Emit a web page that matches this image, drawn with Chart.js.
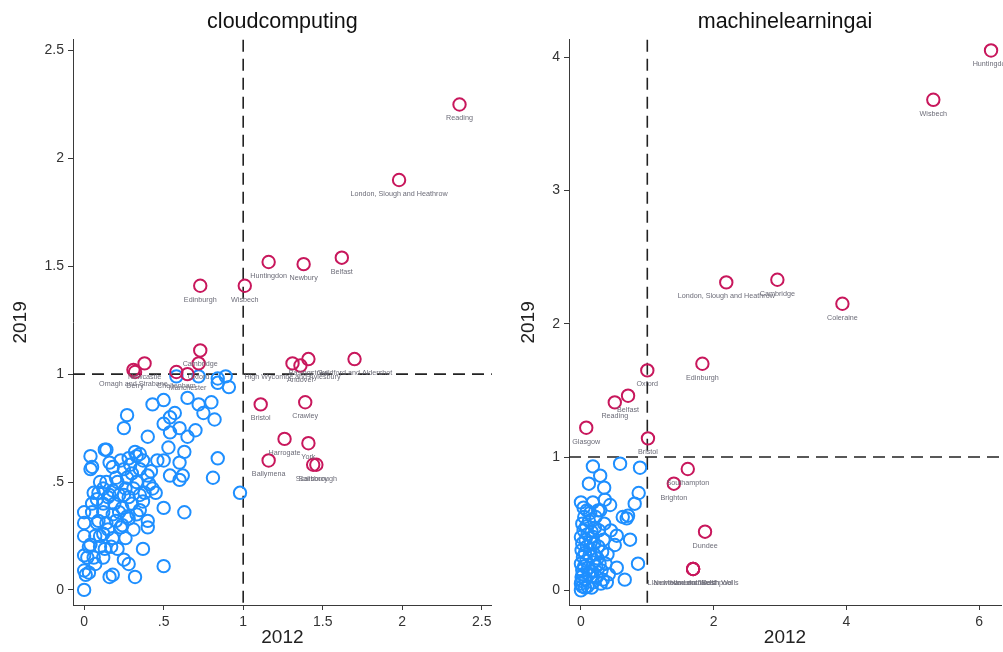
<!DOCTYPE html>
<html>
<head>
<meta charset="utf-8">
<script src="https://cdn.jsdelivr.net/npm/chart.js@4.4.1/dist/chart.umd.min.js"></script>
<style>
  html, body { margin: 0; padding: 0; background: #fff; overflow: hidden; width: 1003px; height: 652px; }
  #wrap { position: relative; width: 1003px; height: 652px; overflow: hidden; }
  #c1 { position: absolute; left: 0; top: 0; }
  #c2 { position: absolute; left: 500px; top: 0; }
</style>
</head>
<body>
<div id="wrap">
  <canvas id="c1" width="500" height="652"></canvas>
  <canvas id="c2" width="520" height="652"></canvas>
</div>
<script>
// ---- cloudcomputing: location quotients, 2012 (x) vs 2019 (y) ----
const cloudNames = ["Reading", "London, Slough and Heathrow", "Huntingdon", "Newbury", "Belfast",
  "Wisbech", "Edinburgh", "Cambridge", "Oxford", "Newcastle", "Omagh and Strabane", "Derry",
  "Cheltenham", "Manchester", "High Wycombe and Aylesbury", "Andover", "Basingstoke",
  "Guildford and Aldershot", "Bristol", "Crawley", "Harrogate", "York", "Ballymena",
  "Scarborough", "Salisbury"];
const cloudHiX = [2.36, 1.98, 1.16, 1.38, 1.62, 1.01, 0.73, 0.73, 0.72, 0.38, 0.31, 0.32,
  0.58, 0.65, 1.31, 1.36, 1.41, 1.70, 1.11, 1.39, 1.26, 1.41, 1.16, 1.46, 1.44];
const cloudHiY = [2.25, 1.90, 1.52, 1.51, 1.54, 1.41, 1.41, 1.11, 1.05, 1.05, 1.02, 1.01,
  1.01, 1.00, 1.05, 1.04, 1.07, 1.07, 0.86, 0.87, 0.70, 0.68, 0.60, 0.58, 0.58];
const cloudLo = [
  [0.58,0.99],[0.72,0.99],[0.84,0.98],[0.89,0.99],[0.91,0.94],[0.84,0.96],[0.43,0.86],[0.50,0.88],
  [0.65,0.89],[0.72,0.86],[0.75,0.82],[0.80,0.87],[0.82,0.79],[0.57,0.82],[0.54,0.80],[0.50,0.77],
  [0.27,0.81],[0.25,0.75],[0.60,0.75],[0.65,0.71],[0.70,0.74],[0.54,0.73],[0.40,0.71],[0.53,0.66],
  [0.63,0.64],[0.14,0.65],[0.13,0.65],[0.04,0.62],[0.05,0.57],[0.04,0.56],[0.32,0.64],[0.35,0.63],
  [0.28,0.61],[0.37,0.60],[0.50,0.60],[0.60,0.59],[0.84,0.61],[0.16,0.59],[0.18,0.57],[0.23,0.60],
  [0.25,0.56],[0.30,0.54],[0.35,0.56],[0.40,0.53],[0.54,0.53],[0.62,0.53],[0.81,0.52],[0.10,0.50],
  [0.21,0.50],[0.33,0.50],[0.41,0.49],[0.98,0.45],[0.60,0.51],[0.09,0.45],[0.16,0.44],[0.25,0.44],
  [0.35,0.44],[0.37,0.41],[0.45,0.45],[0.50,0.38],[0.63,0.36],[0.00,0.36],[0.05,0.36],[0.12,0.36],
  [0.18,0.35],[0.27,0.34],[0.35,0.37],[0.40,0.32],[0.40,0.29],[0.00,0.31],[0.08,0.31],[0.14,0.31],
  [0.23,0.29],[0.31,0.28],[0.00,0.25],[0.07,0.25],[0.12,0.26],[0.18,0.24],[0.26,0.24],[0.04,0.21],
  [0.10,0.20],[0.13,0.19],[0.21,0.19],[0.37,0.19],[0.00,0.16],[0.02,0.15],[0.06,0.15],[0.12,0.15],
  [0.25,0.14],[0.28,0.12],[0.50,0.11],[0.00,0.09],[0.03,0.08],[0.01,0.07],[0.18,0.07],[0.16,0.06],
  [0.32,0.06],[0.00,0.00],[0.05,0.40],[0.08,0.42],[0.12,0.47],[0.15,0.43],[0.19,0.40],[0.22,0.44],
  [0.24,0.38],[0.28,0.43],[0.30,0.40],[0.20,0.32],[0.24,0.30],[0.28,0.33],[0.33,0.35],[0.22,0.36],
  [0.15,0.28],[0.10,0.25],[0.17,0.20],[0.07,0.12],[0.03,0.20],[0.09,0.32],[0.31,0.47],[0.38,0.45],
  [0.43,0.47],[0.27,0.52],[0.20,0.52],[0.14,0.50],[0.06,0.45],[0.29,0.58],[0.33,0.62],[0.42,0.55],
  [0.46,0.60],[0.12,0.40],[0.18,0.46],[0.26,0.47]
];

// ---- machinelearningai ----
const mlNames = ["Huntingdon", "Wisbech", "London, Slough and Heathrow", "Cambridge", "Coleraine",
  "Edinburgh", "Oxford", "Belfast", "Reading", "Glasgow", "Bristol", "Southampton", "Brighton",
  "Dundee", "Llandrindod and Builth Wells", "Newtown and Welshpool", "Haverfordwest"];
const mlHiX = [6.18, 5.31, 2.19, 2.96, 3.94, 1.83, 1.00, 0.71, 0.51, 0.08, 1.01, 1.61, 1.40,
  1.87, 1.69, 1.69, 1.69];
const mlHiY = [4.05, 3.68, 2.31, 2.33, 2.15, 1.70, 1.65, 1.46, 1.41, 1.22, 1.14, 0.91, 0.80,
  0.44, 0.16, 0.16, 0.16];
const mlLo = [
  [0.18,0.93],[0.59,0.95],[0.89,0.92],[0.29,0.86],[0.12,0.80],[0.35,0.77],[0.87,0.73],[0.00,0.66],
  [0.18,0.66],[0.36,0.68],[0.44,0.64],[0.81,0.65],[0.26,0.60],[0.63,0.55],[0.71,0.56],[0.69,0.54],
  [0.54,0.41],[0.74,0.38],[0.51,0.34],[0.86,0.20],[0.54,0.17],[0.66,0.08],[0.39,0.06],[0.00,0.00],
  [0.00,0.05],[0.01,0.10],[0.02,0.15],[0.00,0.20],[0.03,0.25],[0.01,0.30],[0.02,0.35],[0.00,0.40],
  [0.04,0.45],[0.02,0.50],[0.05,0.55],[0.03,0.12],[0.06,0.02],[0.07,0.08],[0.05,0.18],[0.08,0.22],
  [0.06,0.28],[0.09,0.33],[0.07,0.38],[0.10,0.42],[0.08,0.48],[0.12,0.52],[0.10,0.03],[0.12,0.12],
  [0.11,0.17],[0.13,0.26],[0.14,0.31],[0.15,0.36],[0.16,0.44],[0.14,0.58],[0.18,0.06],[0.17,0.14],
  [0.19,0.21],[0.20,0.27],[0.18,0.40],[0.21,0.47],[0.22,0.55],[0.24,0.10],[0.23,0.18],[0.25,0.24],
  [0.26,0.33],[0.27,0.45],[0.29,0.60],[0.30,0.05],[0.31,0.15],[0.32,0.29],[0.34,0.38],[0.35,0.50],
  [0.37,0.20],[0.40,0.27],[0.42,0.12],[0.45,0.45],[0.04,0.62],[0.02,0.03],[0.01,0.07],[0.09,0.60],
  [0.16,0.02],[0.20,0.35],[0.28,0.20],[0.33,0.08]
];

// ---- axis ticks ----
const cloudTicks = [0, 0.5, 1, 1.5, 2, 2.5];
const cloudTickLabels = ["0", ".5", "1", "1.5", "2", "2.5"];
const mlXTicks = [0, 2, 4, 6];
const mlXTickLabels = ["0", "2", "4", "6"];
const mlYTicks = [0, 1, 2, 3, 4];
const mlYTickLabels = ["0", "1", "2", "3", "4"];

const FONT = "'Liberation Sans', Arial, sans-serif";
const BLUE = "#1e8fff";
const RED = "#c8175c";
const AXIS = "#3a3a3a";

// dashed reference lines at a location quotient of 1
const refLines = {
  id: "refLines",
  beforeDatasetsDraw(chart) {
    const { ctx, chartArea: a, scales } = chart;
    const px = scales.x.getPixelForValue(1);
    const py = scales.y.getPixelForValue(1);
    ctx.save();
    ctx.strokeStyle = "#222";
    ctx.lineWidth = 1.6;
    ctx.setLineDash([12, 7]);
    ctx.beginPath();
    ctx.moveTo(px, a.top); ctx.lineTo(px, a.bottom);
    ctx.moveTo(a.left, py); ctx.lineTo(a.right, py);
    ctx.stroke();
    ctx.restore();
  }
};

// place-name labels under the highlighted markers
const pointLabels = {
  id: "pointLabels",
  afterDatasetsDraw(chart, args, opts) {
    const names = opts.names;
    if (!names) return;
    const meta = chart.getDatasetMeta(0);
    const ctx = chart.ctx;
    ctx.save();
    ctx.font = "7.2px " + FONT;
    ctx.fillStyle = "#6c6c78";
    ctx.textAlign = "center";
    ctx.textBaseline = "middle";
    meta.data.forEach((el, i) => ctx.fillText(names[i], el.x, el.y + 14));
    ctx.restore();
  }
};

function axis(min, max, ticks, labels, title, fitKey, fitSize) {
  return {
    type: "linear",
    min: min, max: max,
    afterBuildTicks: s => { s.ticks = ticks.map(v => ({ value: v })); },
    afterFit: s => { s[fitKey] = fitSize; },
    ticks: {
      autoSkip: false, maxRotation: 0, padding: 4,
      color: "#333", font: { family: FONT, size: 14 },
      callback: (v) => { const k = ticks.indexOf(v); return k >= 0 ? labels[k] : ""; }
    },
    grid: { display: true, drawOnChartArea: false, drawTicks: true, tickLength: 5, color: AXIS, lineWidth: 1 },
    border: { display: true, color: AXIS, width: 1 },
    title: { display: true, text: title, color: "#222", font: { family: FONT, size: 19 }, padding: 3 }
  };
}

function makeChart(id, cfg) {
  const hi = cfg.hiX.map((x, i) => ({ x: x, y: cfg.hiY[i] }));
  const lo = cfg.lo.map(p => ({ x: p[0], y: p[1] }));
  return new Chart(document.getElementById(id), {
    type: "scatter",
    data: {
      datasets: [
        { data: hi, pointStyle: "circle", pointRadius: 6.2, borderWidth: 2, borderColor: RED, backgroundColor: "rgba(0,0,0,0)" },
        { data: lo, pointStyle: "circle", pointRadius: 6.2, borderWidth: 2, borderColor: BLUE, backgroundColor: "rgba(0,0,0,0)" }
      ]
    },
    options: {
      responsive: false,
      animation: false,
      layout: { padding: cfg.padding },
      plugins: {
        legend: { display: false },
        tooltip: { enabled: false },
        title: {
          display: true, text: cfg.title, fullSize: false, color: "#111",
          font: { family: FONT, size: 21.5, weight: "normal" },
          padding: { top: 9, bottom: 5 }
        },
        pointLabels: { names: cfg.names }
      },
      scales: {
        x: axis(cfg.xMin, cfg.xMax, cfg.xTicks, cfg.xLabels, "2012", "height", 47),
        y: axis(cfg.yMin, cfg.yMax, cfg.yTicks, cfg.yLabels, "2019", "width", cfg.yWidth)
      }
    },
    plugins: [refLines, pointLabels]
  });
}

makeChart("c1", {
  title: "cloudcomputing", names: cloudNames, hiX: cloudHiX, hiY: cloudHiY, lo: cloudLo,
  xMin: -0.07, xMax: 2.563, yMin: -0.07, yMax: 2.55,
  xTicks: cloudTicks, xLabels: cloudTickLabels, yTicks: cloudTicks, yLabels: cloudTickLabels,
  padding: { left: 6, right: 8, top: 0, bottom: 0 }, yWidth: 67
});

makeChart("c2", {
  title: "machinelearningai", names: mlNames, hiX: mlHiX, hiY: mlHiY, lo: mlLo,
  xMin: -0.18, xMax: 6.33, yMin: -0.11, yMax: 4.13,
  xTicks: mlXTicks, xLabels: mlXTickLabels, yTicks: mlYTicks, yLabels: mlYTickLabels,
  padding: { left: 14, right: 19, top: 0, bottom: 0 }, yWidth: 55
});
</script>
</body>
</html>
